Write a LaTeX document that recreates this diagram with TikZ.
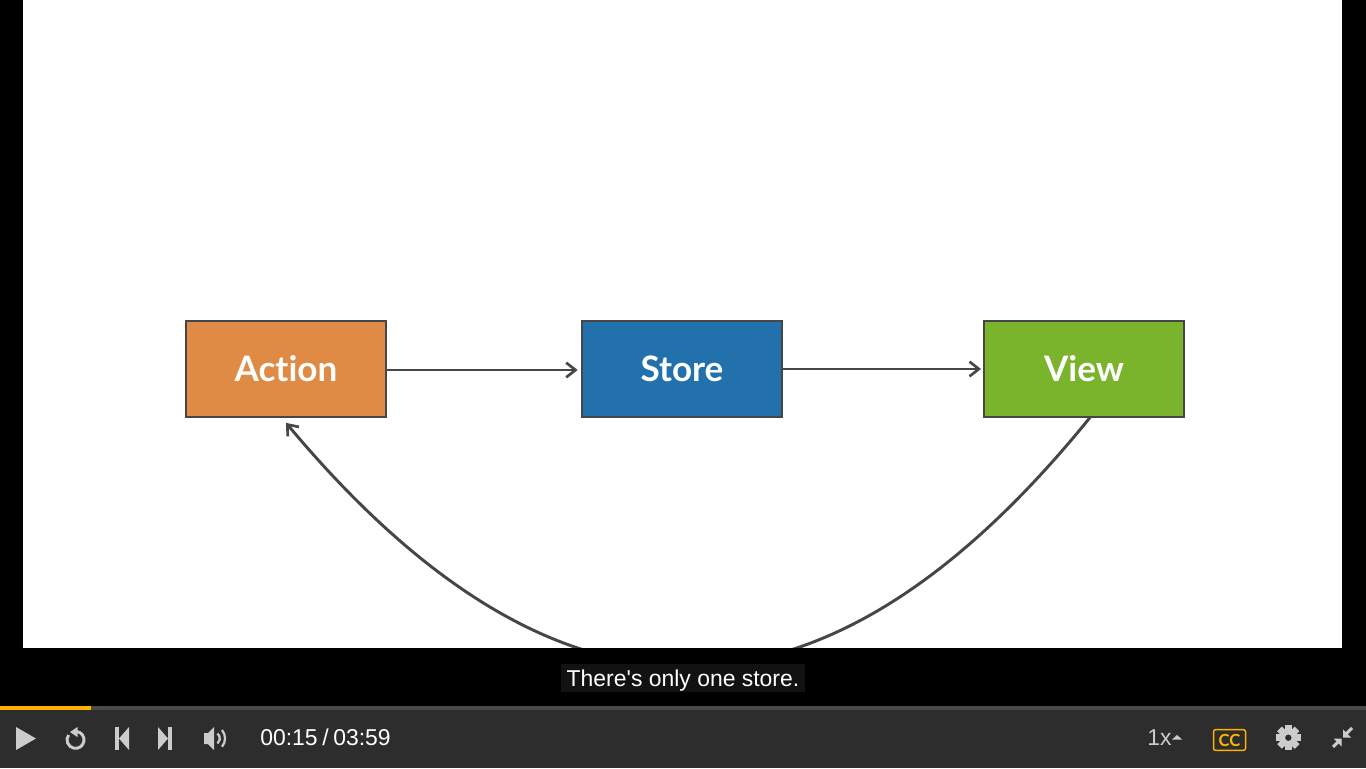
\documentclass[tikz,border=0pt]{standalone}
\usepackage{fontspec}
\setmainfont[Ligatures=TeXOff]{Liberation Sans}
\newfontfamily\boxfont[Ligatures=NoCommon]{Lato}
\usetikzlibrary{arrows.meta,
                positioning}
\definecolor{actionfill}{HTML}{DF8B46}
\definecolor{storefill}{HTML}{2271AD}
\definecolor{viewfill}{HTML}{7AB32C}
\definecolor{linegray}{HTML}{464548}
\definecolor{barfill}{HTML}{2D2D2D}
\definecolor{trackfill}{HTML}{4B4B4B}
\definecolor{playorange}{HTML}{FFB400}
\definecolor{icongray}{HTML}{CCCCCC}
\tikzset{block/.style =
   {rectangle,
    draw=linegray,
    line width=1.5pt,
    text=white,
    font=\boxfont\bfseries\fontsize{26.3}{26.3}\selectfont,
    minimum width=150pt,
    minimum height=72pt,
    inner sep=0pt}}
\tikzset{arrow/.style = {draw=linegray, line width=2.2pt, -{Straight Barb[length=7pt,width=11pt,line width=2pt]}}}
\tikzset{icon/.style = {fill=icongray, draw=none}}
\tikzset{iconline/.style = {draw=icongray, line width=2.2pt}}
\tikzset{bartext/.style = {text=white, inner sep=0pt, font=\fontsize{17.2}{17.2}\selectfont}}

\begin{document}
\begin{tikzpicture}[x=0.75pt, y=-0.75pt]

    \useasboundingbox (0,0) rectangle (1366,768);
    \fill [black] (0,0) rectangle (1366,768);
    \fill [white] (23,0) rectangle (1342,648);

    \node [block, fill=actionfill] (action) at (286,368.5) {Action};
    \node [block, fill=storefill]  (store)  at (682,368.5) {Store};
    \node [block, fill=viewfill]   (view)   at (1084,368.5)  {View};

    \draw [arrow, shorten >=2.5pt] (action.east |- 0,370) -- (store.west |- 0,370);
    \draw [arrow, shorten >=1.5pt] (store.east |- 0,369)  -- (view.west |- 0,369);

    \draw [arrow]
        ([xshift=4.5pt]view.south) .. controls (822,748) and (558,748)
        .. ([yshift=-4pt]action.south);

    % everything below the slide covers the curve
    \fill [black] (0,648) rectangle (1366,706);
    \fill [barfill] (0,706) rectangle (1366,768);
    \fill [trackfill] (0,706) rectangle (1366,710);
    \fill [playorange] (0,706) rectangle (91,710);

    \fill [black!93!white] (561,664) rectangle (805,692);
    \node [text=white, inner sep=0pt, anchor=base,
           font=\fontsize{17.2}{17.2}\selectfont] (caption) at (683,686) {There's only one store.};

    % player controls
    \fill [icon] (16,727) -- (36,738.5) -- (16,750) -- cycle;
    \draw [iconline] (77,731.5) arc (-80:215:8.5);
    \fill [icon] (77.5,727) -- (77.5,737) -- (70,732) -- cycle;
    \fill [icon] (115,727) rectangle (119,750);
    \fill [icon] (129,727) -- (119,738.5) -- (129,750) -- cycle;
    \fill [icon] (168,727) rectangle (172,750);
    \fill [icon] (158,727) -- (168,738.5) -- (158,750) -- cycle;
    \fill [icon] (204,733) -- (208,733) -- (214,727) -- (214,750) -- (208,744) -- (204,744) -- cycle;
    \draw [icongray, line width=1.7pt] (217.5,733.5) arc (-50:50:6.5);
    \draw [icongray, line width=1.7pt] (222,730) arc (-40:40:13);

    \node [bartext, anchor=base west] (timer) at (260,745) {00:15\hspace{3.5pt}/\hspace{3.5pt}03:59};
    \node [bartext, anchor=base west, text=icongray] (speed) at (1147,745) {1x};
    \fill [icon] (1172,739.5) -- (1177,735) -- (1182,739.5) -- cycle;

    \node [draw=playorange, line width=1.1pt, rounded corners=1.5pt, text=playorange,
           minimum width=24pt, minimum height=15.5pt, inner sep=0pt,
           font=\boxfont\bfseries\fontsize{12.5}{12.5}\selectfont] (cc) at (1229.5,740) {CC};

    % gear
    \foreach \a in {0,45,...,315}
        \fill [icon, rotate around={\a:(1288.3,737.7)}] (1285,725.3) rectangle (1291.6,731);
    \fill [icon, even odd rule] (1288.3,737.7) circle (9.3) (1288.3,737.7) circle (3.3);

    % minimize
    \fill [icon] (1343,737.5) -- (1343,729.5) -- (1351,737.5) -- cycle;
    \draw [iconline] (1346,734) -- (1352,728);
    \fill [icon] (1341.5,738.5) -- (1341.5,746.5) -- (1333.5,738.5) -- cycle;
    \draw [iconline] (1338,742) -- (1333,747);

\end{tikzpicture}
\end{document}
